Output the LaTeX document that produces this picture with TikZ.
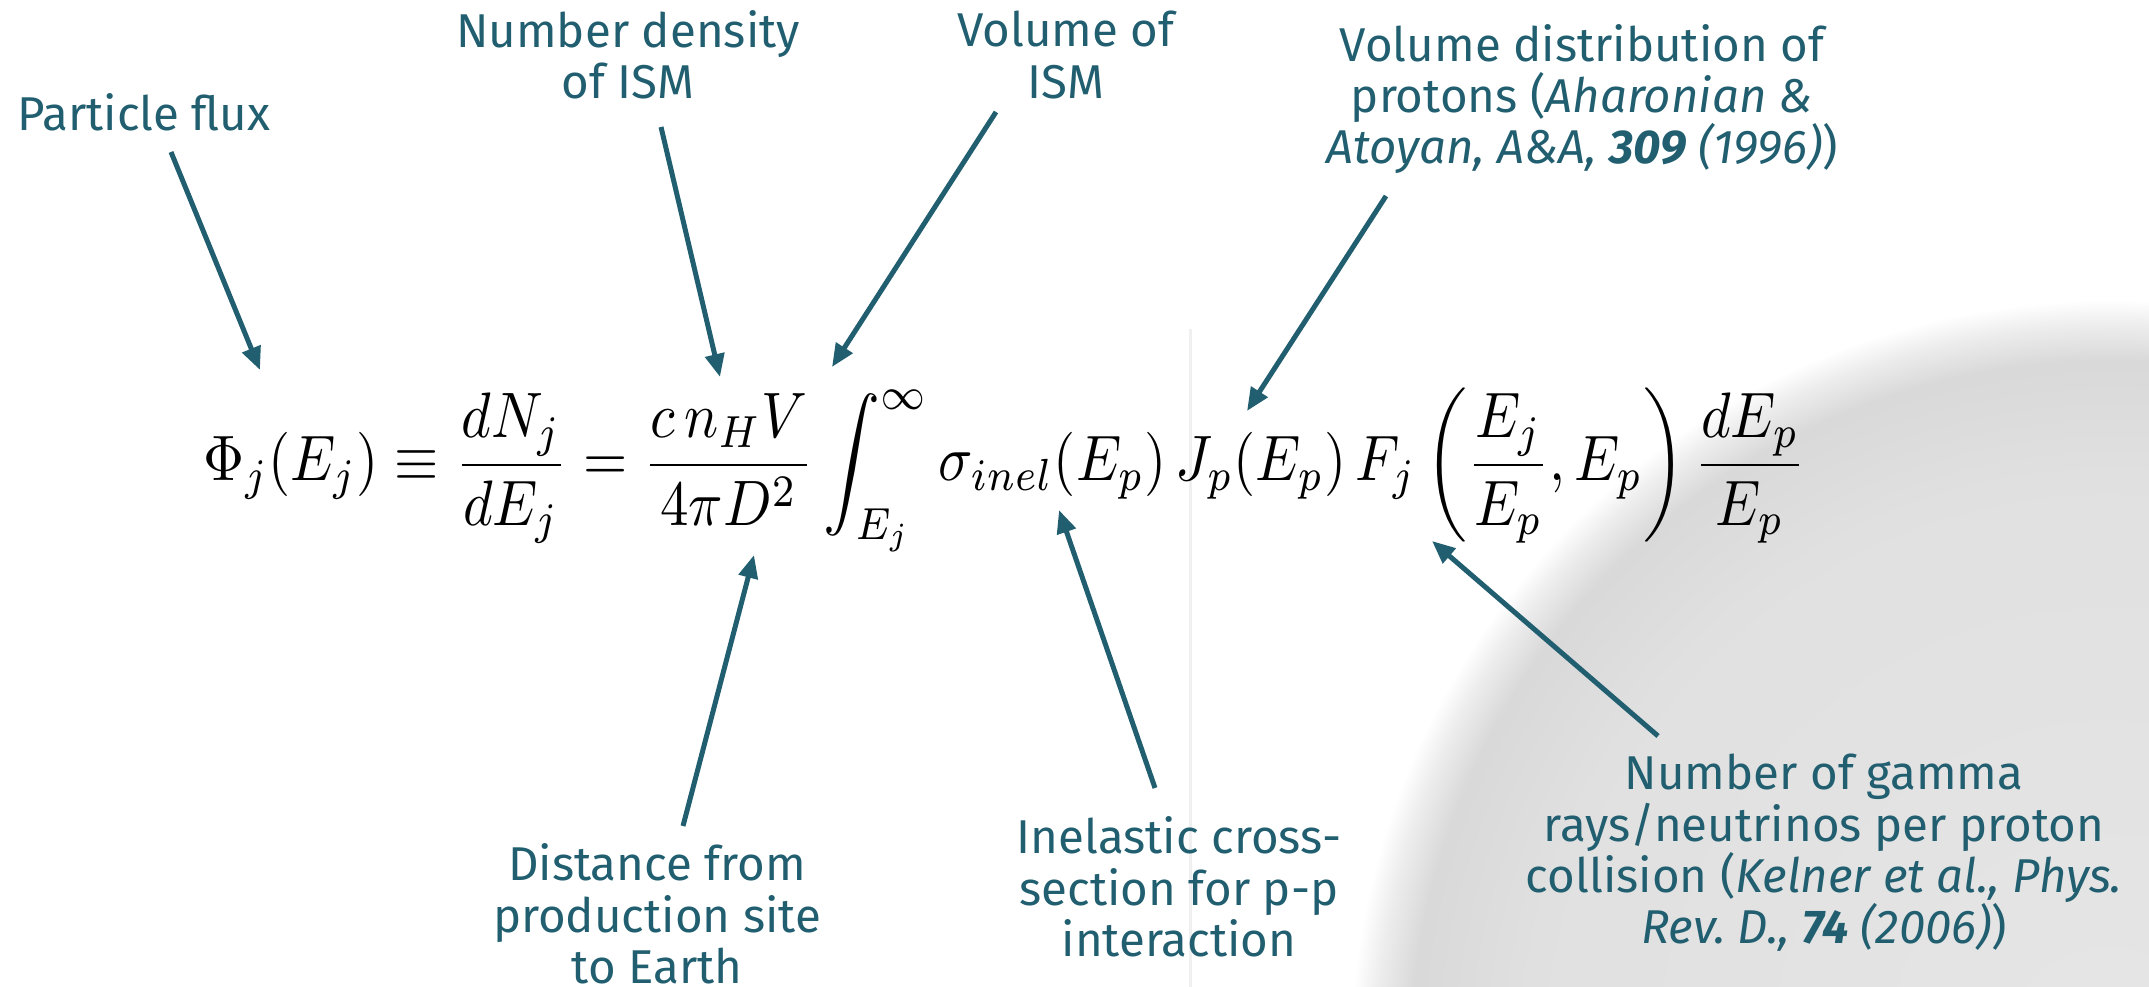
\documentclass[tikz,border=0pt]{standalone}
\usepackage[no-math]{fontspec}
\setmainfont{Fira Sans}
\usepackage{amsmath}
\usepackage{graphicx}
\usetikzlibrary{arrows.meta, calc}

\definecolor{ismteal}{HTML}{215F70}
\pgfdeclareradialshading{haze}{\pgfpoint{0bp}{0bp}}{%
  color(0bp)=(black!10); color(19bp)=(black!12); color(23bp)=(black!15);
  color(24.2bp)=(black!7); color(25bp)=(white); color(50bp)=(white)}

\begin{document}
\frenchspacing
\begin{tikzpicture}[
    x=0.1mm, y=-0.1mm,
    note/.style    = {text=ismteal, align=center, inner sep=0pt,
                      font=\fontsize{13.5}{14.6}\selectfont},
    pointer/.style = {draw=ismteal, line width=0.5mm},
    >={Triangle[length=2.3mm, width=1.9mm]}
]
\useasboundingbox (0,0) rectangle (2149,987);

% grey haze in the lower right corner
\begin{scope}
  \clip (0,0) rectangle (2149,987);
  \shade[shading=haze] (2110,1060) circle[radius=760];
\end{scope}

% faint slide edge
\draw[black!6, line width=0.3mm] (1190,329) -- (1190,987);

% the flux formula
\node[anchor=base west, inner sep=0pt] (eq) at (203,481) {\scalebox{1}[1.13]{\resizebox{160.2mm}{!}{$\displaystyle
  \Phi_j\!\left(E_j\right) \equiv \frac{dN_j}{dE_j} = \frac{c\,n_H V}{4\pi D^2}
  \int_{E_j}^{\infty} \sigma_{inel}\!\left(E_p\right) J_p\!\left(E_p\right)
  F_j\left(\frac{E_j}{E_p}, E_p\right)\frac{dE_p}{E_p}$}}};

% points in the formula
\coordinate (phi) at (260,370);
\coordinate (nH)  at (720,377);
\coordinate (V)   at (832,367);
\coordinate (Jp)  at (1247,411);
\coordinate (D2)  at (754,555);
\coordinate (sig) at (1059,510);
\coordinate (Fj)  at (1432,541);

% labels above
\node[note] (flux)    at (144,112) {Particle flux};
\node[note] (density) at (628,55)  {Number density\\of ISM};
\node[note] (volume)  at (1066,55) {Volume of\\ISM};
\node[note] (protons) at (1582,99) {Volume distribution of\\protons (\textit{Aharonian \&}\\\textit{Atoyan, A\&A, \textbf{309} (1996)})};

% labels below
\node[note] (distance) at (657,914)  {Distance from\\production site\\to Earth};
\node[note] (crosssec) at (1179,887) {Inelastic cross-\\section for p-p\\interaction};
\node[note] (gammas)   at (1824,853) {Number of gamma\\rays/neutrinos per proton\\collision (\textit{Kelner et al., Phys.}\\\textit{Rev. D., \textbf{74} (2006)})};

% arrows to the terms
\draw[pointer, ->] ($(flux)+(27,40)$)       -- (phi);
\draw[pointer, ->] ($(density)+(33,72)$)    -- (nH);
\draw[pointer, ->] ($(volume)+(-70,57)$)    -- (V);
\draw[pointer, ->] ($(protons)+(-196,97)$)  -- (Jp);
\draw[pointer, ->] ($(distance)+(26,-88)$)  -- (D2);
\draw[pointer, ->] ($(crosssec)+(-24,-99)$) -- (sig);
\draw[pointer, ->] ($(gammas)+(-166,-117)$) -- (Fj);

\end{tikzpicture}
\end{document}
